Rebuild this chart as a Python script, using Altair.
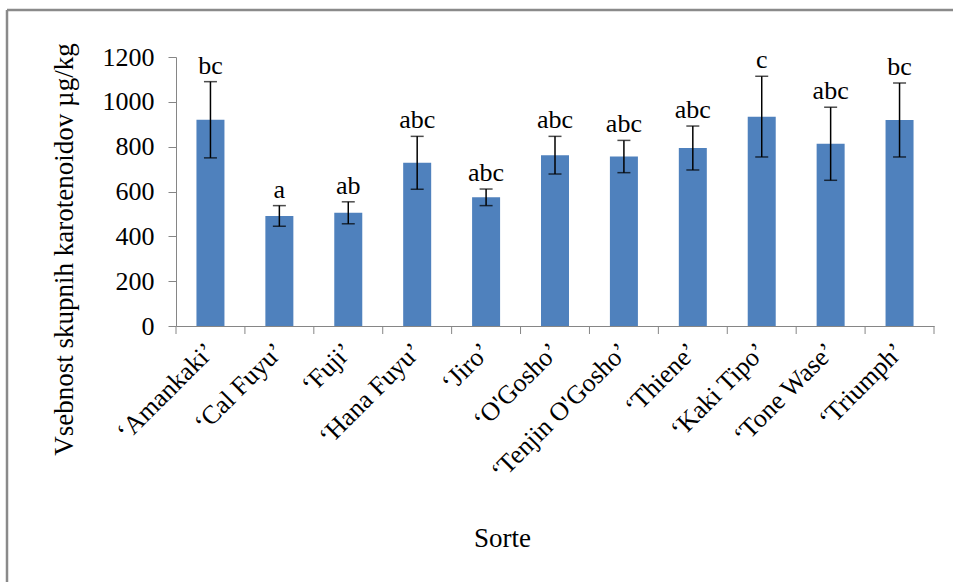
import altair as alt
import pandas as pd

# Persimmon cultivars and their total carotenoid content (µg/kg)
cultivars = ["‘Amankaki’", "‘Cal Fuyu’", "‘Fuji’", "‘Hana Fuyu’", "‘Jiro’",
             "‘O'Gosho’", "‘Tenjin O'Gosho’", "‘Thiene’", "‘Kaki Tipo’",
             "‘Tone Wase’", "‘Triumph’"]
means = [920, 491, 505, 728, 574, 762, 756, 794, 934, 813, 919]
sds = [170, 46, 49, 118, 37, 84, 72, 98, 180, 163, 165]
letters = ["bc", "a", "ab", "abc", "abc", "abc", "abc", "abc", "c", "abc", "bc"]
y_ticks = [0, 200, 400, 600, 800, 1000, 1200]

df = pd.DataFrame({"cultivar": cultivars, "mean": means, "sd": sds, "letter": letters})

W, H = 758, 269
FONT = "Liberation Serif"
BLUE = "#4F81BD"
GREY = "#868686"

base = alt.Chart(df).transform_calculate(
    lo="datum.mean - datum.sd", hi="datum.mean + datum.sd"
)

x_enc = alt.X(
    "cultivar:N", sort=None,
    scale=alt.Scale(paddingInner=0, paddingOuter=0),
    axis=alt.Axis(
        title="Sorte", labelAngle=315, labelAlign="right", labelBaseline="middle",
        labelPadding=21, ticks=False, domainColor=GREY, labelFont=FONT,
        labelFontSize=26, labelColor="black", titleFont=FONT, titleFontSize=27,
        titleFontWeight="normal", titleColor="black", titleX=326, titleY=220,
        titleAnchor="start", titleAlign="center", titleBaseline="alphabetic",
        labelLimit=400,
    ),
)
y_enc = alt.Y(
    "mean:Q",
    scale=alt.Scale(domain=[0, 1200], nice=False),
    axis=alt.Axis(
        title="Vsebnost skupnih karotenoidov µg/kg", values=y_ticks, format="d",
        grid=False, tickSize=8, tickColor=GREY, domainColor=GREY, labelPadding=14,
        labelFont=FONT, labelFontSize=26, labelColor="black",
        titleFont=FONT, titleFontSize=27, titleFontWeight="normal",
        titleColor="black", titleAngle=270, titleX=-104, titleY=192,
        titleAlign="center", titleBaseline="alphabetic",
    ),
)

bars = base.mark_bar(color=BLUE, size=28).encode(x=x_enc, y=y_enc)

err = base.mark_rule(color="black", strokeWidth=1.5).encode(
    x=alt.X("cultivar:N", sort=None), y="lo:Q", y2="hi:Q"
)
cap_hi = base.mark_tick(color="black", size=13, thickness=1.5, orient="horizontal").encode(
    x=alt.X("cultivar:N", sort=None), y="hi:Q"
)
cap_lo = base.mark_tick(color="black", size=13, thickness=1.5, orient="horizontal").encode(
    x=alt.X("cultivar:N", sort=None), y="lo:Q"
)
labels = base.mark_text(font=FONT, fontSize=26, color="black", baseline="alphabetic", dy=-8).encode(
    x=alt.X("cultivar:N", sort=None), y="hi:Q", text="letter:N"
)

# category separator ticks on the x axis (at band edges)
x_ticks = alt.Chart(df).mark_rule(color=GREY, strokeWidth=1).encode(
    x=alt.X("cultivar:N", sort=None, bandPosition=0),
    y=alt.value(H), y2=alt.value(H + 8),
)
one = pd.DataFrame({"k": [0]})
x_tick_end = alt.Chart(one).mark_rule(color=GREY, strokeWidth=1).encode(
    x=alt.value(W), y=alt.value(H), y2=alt.value(H + 8)
)

# outer chart frame
frame_top = alt.Chart(one).mark_rule(color="#8a8a8a", strokeWidth=2.5).encode(
    x=alt.value(-169), x2=alt.value(777), y=alt.value(-47)
)
frame_left = alt.Chart(one).mark_rule(color="#8a8a8a", strokeWidth=2.5).encode(
    x=alt.value(-169), y=alt.value(-47), y2=alt.value(560)
)

chart = alt.layer(
    bars, err, cap_hi, cap_lo, labels, x_ticks, x_tick_end, frame_top, frame_left
).properties(
    width=W, height=H,
    autosize=alt.AutoSizeParams(type="none"),
    padding={"left": 176, "top": 57, "right": 22, "bottom": 256},
    background="white",
).configure_view(stroke=None)

chart.save("out.html", embed_options={"renderer": "svg", "actions": False})
